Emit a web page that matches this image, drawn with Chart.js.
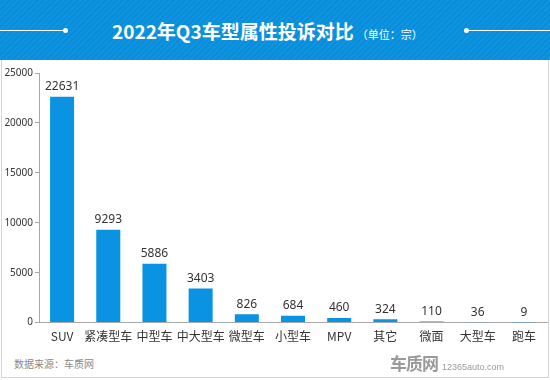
<!DOCTYPE html>
<html>
<head>
<meta charset="utf-8">
<script src="https://cdn.jsdelivr.net/npm/chart.js@4.4.0/dist/chart.umd.min.js"></script>
<style>
  html,body{margin:0;padding:0;background:#fff;}
  body{width:550px;height:380px;position:relative;overflow:hidden;font-family:"Noto Sans CJK SC","Noto Sans",sans-serif;}
  #header{position:absolute;left:0;top:0;width:550px;height:60px;
    background:#0890df;
    background-image:repeating-linear-gradient(135deg,rgba(255,255,255,0.035) 0 2px,rgba(0,0,0,0.02) 2px 4px);}
  #title{position:absolute;left:112px;top:1px;height:60px;line-height:60px;color:#fff;white-space:nowrap;}
  #title .main{font-size:19px;font-weight:bold;}
  #title .unit{font-size:11px;margin-left:3px;}
  .hline{position:absolute;top:30px;height:1px;background:#fff;}
  .dot{position:absolute;top:28px;width:5px;height:5px;border-radius:50%;background:#fff;}
  #frame{position:absolute;left:1px;top:60px;width:546px;height:317px;border:1px solid #d4d4d4;border-top:none;}
  #wrap{position:absolute;left:0;top:60px;width:550px;height:291px;}
  #src{position:absolute;left:14px;top:356px;font-size:10px;color:#8a8a8a;}
  #logo{position:absolute;left:390px;top:350px;color:#9a9a9a;white-space:nowrap;}
  #logo .cz{font-size:17px;font-weight:bold;letter-spacing:-1px;}
  #logo .url{font-size:9px;margin-left:4px;font-family:"Liberation Sans",sans-serif;}
</style>
</head>
<body>
<div id="header"></div>
<div class="hline" style="left:0;width:65px"></div>
<div class="dot" style="left:63px"></div>
<div class="hline" style="left:467px;width:83px"></div>
<div class="dot" style="left:464px"></div>
<div id="title"><span class="main">2022年Q3车型属性投诉对比</span><span class="unit">（单位：宗）</span></div>
<div id="frame"></div>
<div id="wrap"><canvas id="c"></canvas></div>
<div id="src">数据来源：车质网</div>
<div id="logo"><span class="cz">车质网</span><span class="url">12365auto.com</span></div>
<script>
const categories = ["SUV","紧凑型车","中型车","中大型车","微型车","小型车","MPV","其它","微面","大型车","跑车"];
const complaints = [22631,9293,5886,3403,826,684,460,324,110,36,9];
const yTicks = [0,5000,10000,15000,20000,25000];

const valueLabels = {
  id:'valueLabels',
  afterDatasetsDraw(chart){
    const ctx = chart.ctx;
    const meta = chart.getDatasetMeta(0);
    ctx.save();
    ctx.font = '12px "Noto Sans","Noto Sans CJK SC",sans-serif';
    ctx.fillStyle = '#333';
    ctx.textAlign = 'center';
    ctx.textBaseline = 'bottom';
    meta.data.forEach((bar,i)=>{
      ctx.fillText(String(complaints[i]), bar.x, bar.y - 4);
    });
    ctx.restore();
  }
};

new Chart(document.getElementById('c'),{
  type:'bar',
  data:{labels:categories,datasets:[{data:complaints,backgroundColor:'#0b93e3',barPercentage:0.52,categoryPercentage:1}]},
  options:{
    responsive:true,maintainAspectRatio:false,animation:false,
    layout:{padding:{top:13,right:3,left:0,bottom:0}},
    plugins:{legend:{display:false},tooltip:{enabled:false}},
    scales:{
      x:{
        grid:{display:false,drawTicks:false},
        border:{display:true,color:'#a8a8a8',width:1},
        ticks:{color:'#333',font:{size:12,family:'"Noto Sans CJK SC","Noto Sans",sans-serif'},padding:7,maxRotation:0,autoSkip:false}
      },
      y:{
        min:0,max:25000,
        afterBuildTicks(scale){scale.ticks = yTicks.map(v=>({value:v}));},
        afterFit(scale){scale.width = 39;},
        grid:{drawOnChartArea:false,drawTicks:true,tickLength:4,color:'#a8a8a8'},
        border:{display:true,color:'#a8a8a8',width:1},
        ticks:{color:'#333',font:{size:10,family:'"Noto Sans","DejaVu Sans",sans-serif'},padding:2,callback:(v)=>String(v)}
      }
    }
  },
  plugins:[valueLabels]
});
</script>
</body>
</html>
